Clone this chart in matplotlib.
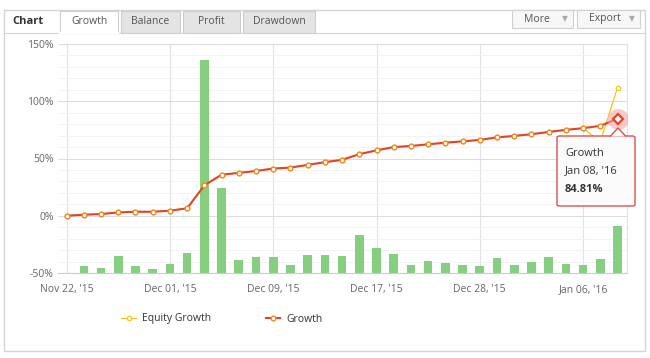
import matplotlib.pyplot as plt
from matplotlib.patches import Rectangle, FancyBboxPatch, Polygon
import numpy as np

# data
dates = ["Nov 22, '15", "Dec 01, '15", "Dec 09, '15", "Dec 17, '15", "Dec 28, '15", "Jan 06, '16"]
date_idx = [0, 6, 12, 18, 24, 30]
growth = [0, 0.9, 1.5, 2.9, 3.5, 3.5, 4.4, 6.5, 26.5, 35.9, 37.4, 39.1, 41.2, 42.1, 44.4, 46.8,
          48.8, 53.8, 57.1, 60.0, 60.9, 62.4, 63.8, 65.0, 66.2, 68.5, 69.7, 71.2, 73.2, 75.0,
          76.5, 78.5, 84.81]
equity = growth[:31] + [64.7, 112.0]
bars = [0, 6.5, 4.1, 14.7, 6.5, 3.2, 7.6, 17.4, 186, 73.8, 11.2, 13.8, 13.8, 6.8, 15.6, 15.6,
        14.7, 33.2, 21.8, 16.5, 6.8, 10.3, 8.5, 6.8, 5.9, 12.9, 7.4, 9.4, 13.8, 7.6, 6.8, 12.1, 41.2]
yticks = [-50, 0, 50, 100, 150]
tabs = ["Growth", "Balance", "Profit", "Drawdown"]

plt.rcParams['font.family'] = ['Open Sans', 'DejaVu Sans']
W, H = 650, 358
fig = plt.figure(figsize=(W / 100, H / 100), dpi=100)
fig.patch.set_facecolor('white')


def fx(x):
    return x / W


def fy(y):
    return 1 - y / H


def rect(x0, y0, x1, y1, fc, ec, lw=0.8, z=1):
    fig.patches.append(Rectangle((fx(x0), fy(y1)), fx(x1 - x0), (y1 - y0) / H,
                                 transform=fig.transFigure, fc=fc, ec=ec, lw=lw, zorder=z))


# widget frame
rect(4, 10, 645, 351, 'white', '#d4d4d4', 1.0)
fig.lines.append(plt.Line2D([fx(4), fx(645)], [fy(33), fy(33)], transform=fig.transFigure,
                            color='#d4d4d4', lw=0.8, zorder=2))
fig.text(fx(12), fy(21), "Chart", fontsize=8, fontweight='bold', color='#333333', va='center')
tab_x = [(60, 118), (121, 180), (183, 240), (243, 315)]
for (a, b), t in zip(tab_x, tabs):
    active = t == "Growth"
    rect(a, 11, b, 33, 'white' if active else '#e4e4e4', '#cfcfcf', 0.8, 3)
    if active:
        fig.lines.append(plt.Line2D([fx(a + 0.5), fx(b - 0.5)], [fy(33), fy(33)],
                                    transform=fig.transFigure, color='white', lw=1.5, zorder=4))
    fig.text(fx((a + b) / 2), fy(21.5), t, fontsize=7.5, color='#555555', ha='center',
             va='center', zorder=5)
for (a, b), t in zip([(512, 573), (577, 640)], ["More", "Export"]):
    rect(a, 10, b, 28, '#f7f7f7', '#d0d0d0', 0.8, 3)
    fig.text(fx(a + 12), fy(19), t, fontsize=7.5, color='#555555', va='center', zorder=5)
    fig.text(fx(b - 8), fy(19), "\u25bc", fontsize=5.5, color='#aaaaaa', ha='center',
             va='center', zorder=5, family='DejaVu Sans')

# plot area
ax = fig.add_axes([fx(58), fy(273), fx(627 - 58), (273 - 44) / H])
ax.set_zorder(5)
ax.patch.set_alpha(0)
x = np.arange(len(growth))
ax.set_xlim(-0.5, 32.55)
ax.set_ylim(-50, 150)
ax.set_yticks(yticks)
ax.set_yticklabels([f"{v}%" for v in yticks])
ax.set_yticks(np.arange(-50, 151, 10), minor=True)
ax.set_xticks(date_idx)
ax.set_xticklabels(dates)
ax.grid(axis='y', which='major', color='#dcdcdc', lw=0.8)
ax.grid(axis='y', which='minor', color='#f1f1f1', lw=0.6)
ax.grid(axis='x', which='major', color='#e2e2e2', lw=0.8)
for s in ['top', 'left']:
    ax.spines[s].set_visible(False)
ax.spines['right'].set_color('#e2e2e2')
ax.spines['bottom'].set_color('#c0d0e0')
ax.tick_params(axis='both', which='both', length=0, labelsize=7.5, labelcolor='#666666')
ax.tick_params(axis='x', pad=8)
ax.tick_params(axis='y', pad=3)
ax.set_axisbelow(True)

ax.bar(x, bars, bottom=-50, width=0.5, color='#86cf80', zorder=2)
ax.plot(x, equity, color='#f5c518', lw=0.9, marker='o', ms=3.2, mfc='white', mec='#f5c518',
        mew=0.9, zorder=3, label='Equity Growth')
ax.plot(x, growth, color='#e2432a', lw=1.5, marker='o', ms=3.4, mfc='white', mec='#f08a20',
        mew=1.0, zorder=4, label='Growth')
# highlighted last point
ax.plot([32], [growth[-1]], marker='o', ms=15, color='#f4a6a6', alpha=0.6, zorder=5, mew=0)
ax.plot([32], [growth[-1]], marker='D', ms=5.5, mfc='white', mec='#e2432a', mew=1.6, zorder=6)

# tooltip
tip = FancyBboxPatch((fx(557), fy(206)), fx(635 - 557), (206 - 136) / H,
                     boxstyle='round,pad=0,rounding_size=0.004', transform=fig.transFigure,
                     fc='#fbfbfb', ec='#d9534f', lw=1, zorder=10)
fig.patches.append(tip)
fig.patches.append(Polygon([(fx(610), fy(136.5)), (fx(618), fy(128)), (fx(626), fy(136.5))],
                           closed=False, transform=fig.transFigure, fc='#fbfbfb', ec='#d9534f',
                           lw=1, zorder=11))
fig.text(fx(565), fy(153), "Growth", fontsize=8, color='#333333', va='center', zorder=12)
fig.text(fx(565), fy(171), "Jan 08, '16", fontsize=8, color='#333333', va='center', zorder=12)
fig.text(fx(565), fy(189), "84.81%", fontsize=8, fontweight='bold', color='#333333',
         va='center', zorder=12)

# legend
leg = fig.legend(loc='center', bbox_to_anchor=(fx(222), fy(319)), ncol=2, frameon=False,
                 fontsize=7.5, columnspacing=5.2, handlelength=1.4, handletextpad=0.6,
                 labelcolor='#333333')

fig.savefig('out.png', dpi=100)
